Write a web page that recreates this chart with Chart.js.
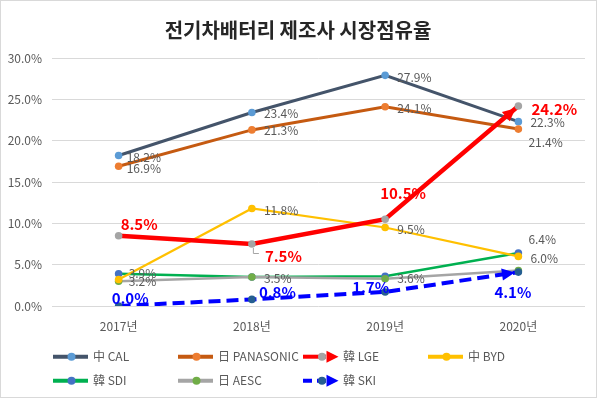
<!DOCTYPE html>
<html><head><meta charset="utf-8">
<script src="https://cdn.jsdelivr.net/npm/chart.js@4/dist/chart.umd.min.js"></script>
<style>html,body{margin:0;padding:0;background:#fff;}canvas{display:block;}</style>
</head><body>
<canvas id="c" width="600" height="399"></canvas>
<script>
// ---- data ----
const titleText = '전기차배터리 제조사 시장점유율';
const categories = ['2017년', '2018년', '2019년', '2020년'];
const seriesNames = ['中 CAL', '日 PANASONIC', '韓 LGE', '中 BYD', '韓 SDI', '日 AESC', '韓 SKI'];
const calValues = [18.2, 23.4, 27.9, 22.3];
const panasonicValues = [16.9, 21.3, 24.1, 21.4];
const lgeValues = [8.5, 7.5, 10.5, 24.2];
const bydValues = [3.2, 11.8, 9.5, 6.0];
const sdiValues = [3.9, 3.5, 3.6, 6.4];
const aescValues = [3.0, 3.5, 3.3, 4.3];
const skiValues = [0.0, 0.8, 1.7, 4.1];
const yTickValues = [0, 5, 10, 15, 20, 25, 30];

// ---- styles (not data) ----
const FONT = "'Noto Sans CJK KR','Noto Sans',sans-serif";
const GREY_TXT = '#595959';
const labelStyles = {
  grey: { color: GREY_TXT, font: '12px ' + FONT },
  red: { color: '#FF0000', font: 'bold 15px ' + FONT },
  blue: { color: '#0000FF', font: 'bold 15px ' + FONT }
};
const seriesStyles = [
  { line: '#44546A', point: '#5B9BD5', width: 3, order: 6, label: 'grey', offs: [[8,2],[12,1],[12,2],[12,1]] },
  { line: '#C55A11', point: '#ED7D31', width: 3, order: 5, label: 'grey', offs: [[8,2],[12,1],[12,2],[10,13]] },
  { line: '#FF0000', point: '#A5A5A5', width: 4.5, order: 1, label: 'red', arrow: true, offs: [[2,-11],[13,12],[-5,-26],[13,3]], leader: [false,true,false,false] },
  { line: '#FFC000', point: '#FFC000', width: 2.2, order: 2, label: 'grey', offs: [[10,2],[12,2],[12,2],[12,2]] },
  { line: '#00B050', point: '#4472C4', width: 2.5, order: 4, label: 'grey', offs: [[10,0],null,[12,2],[10,-14]] },
  { line: '#A5A5A5', point: '#70AD47', width: 2.5, order: 3, label: 'grey', offs: [null,[12,1],null,null] },
  { line: '#0000FF', point: '#255E91', width: 4, order: 0, label: 'blue', arrow: true, dash: [12, 6], offs: [[-7,-8],[7,-7],[-33,-5],[-24,20]] }
];
const allValues = [calValues, panasonicValues, lgeValues, bydValues, sdiValues, aescValues, skiValues];

const datasets = allValues.map((vals, i) => {
  const s = seriesStyles[i];
  return {
    label: seriesNames[i],
    data: vals,
    borderColor: s.line,
    backgroundColor: s.point,
    borderWidth: s.width,
    borderDash: s.dash || [],
    pointRadius: 3.8,
    pointBorderWidth: 0,
    pointBackgroundColor: s.point,
    pointBorderColor: s.point,
    tension: 0,
    order: s.order,
    fill: false
  };
});

function drawArrowHead(ctx, tipX, tipY, ang, len, half, color) {
  ctx.save();
  ctx.fillStyle = color;
  ctx.beginPath();
  ctx.moveTo(tipX, tipY);
  ctx.lineTo(tipX - len * Math.cos(ang) + half * Math.sin(ang), tipY - len * Math.sin(ang) - half * Math.cos(ang));
  ctx.lineTo(tipX - len * Math.cos(ang) - half * Math.sin(ang), tipY - len * Math.sin(ang) + half * Math.cos(ang));
  ctx.closePath();
  ctx.fill();
  ctx.restore();
}

const decorPlugin = {
  id: 'decor',
  beforeDraw(chart) {
    const ctx = chart.ctx;
    ctx.save();
    ctx.fillStyle = '#fff';
    ctx.fillRect(0, 0, chart.width, chart.height);
    ctx.strokeStyle = '#d9d9d9';
    ctx.lineWidth = 1;
    ctx.strokeRect(0.5, 0.5, 596, 397);
    // title
    ctx.fillStyle = '#262626';
    ctx.font = 'bold 20px ' + FONT;
    ctx.textAlign = 'center';
    ctx.textBaseline = 'middle';
    ctx.fillText(titleText, 298, 30);
    ctx.restore();
  },
  afterDatasetsDraw(chart) {
    const ctx = chart.ctx;
    // arrows
    seriesStyles.forEach((s, i) => {
      if (!s.arrow) return;
      const pts = chart.getDatasetMeta(i).data;
      const a = pts[pts.length - 2], b = pts[pts.length - 1];
      const ang = Math.atan2(b.y - a.y, b.x - a.x);
      const tx = b.x - 3.5 * Math.cos(ang), ty = b.y - 3.5 * Math.sin(ang);
      drawArrowHead(ctx, tx, ty, ang, 13, 6, s.line);
    });
    // data labels
    ctx.save();
    ctx.textAlign = 'left';
    ctx.textBaseline = 'middle';
    seriesStyles.forEach((s, i) => {
      const pts = chart.getDatasetMeta(i).data;
      const st = labelStyles[s.label];
      pts.forEach((p, j) => {
        const o = s.offs[j];
        if (!o) return;
        if (s.leader && s.leader[j]) {
          ctx.strokeStyle = '#A5A5A5';
          ctx.lineWidth = 1;
          ctx.beginPath();
          ctx.moveTo(p.x + 1.5, p.y + 4);
          ctx.lineTo(p.x + 1.5, p.y + 9.5);
          ctx.lineTo(p.x + 7, p.y + 9.5);
          ctx.stroke();
        }
        ctx.fillStyle = st.color;
        ctx.font = st.font;
        ctx.fillText(allValues[i][j].toFixed(1) + '%', p.x + o[0], p.y + o[1]);
      });
    });
    ctx.restore();
  },
  afterDraw(chart) {
    const ctx = chart.ctx;
    const colX = [53, 178, 303, 428];
    const rowY = [356.7, 380.7];
    ctx.save();
    ctx.textAlign = 'left';
    ctx.textBaseline = 'middle';
    ctx.font = '12px ' + FONT;
    seriesStyles.forEach((s, i) => {
      const x0 = colX[i % 4], y = rowY[Math.floor(i / 4)];
      ctx.strokeStyle = s.line;
      ctx.lineWidth = 4;
      if (s.arrow) {
        ctx.beginPath();
        if (s.dash) {
          ctx.moveTo(x0, y); ctx.lineTo(x0 + 9, y);
          ctx.moveTo(x0 + 14, y); ctx.lineTo(x0 + 23, y);
        } else {
          ctx.moveTo(x0, y); ctx.lineTo(x0 + 23, y);
        }
        ctx.stroke();
        ctx.fillStyle = s.point;
        ctx.beginPath(); ctx.arc(x0 + 19, y, 4, 0, Math.PI * 2); ctx.fill();
        drawArrowHead(ctx, x0 + 35.5, y, 0, 12, 6, s.line);
        ctx.fillStyle = GREY_TXT;
        ctx.fillText(seriesNames[i], x0 + 40, y);
      } else {
        ctx.beginPath(); ctx.moveTo(x0, y); ctx.lineTo(x0 + 35, y); ctx.stroke();
        ctx.fillStyle = s.point;
        ctx.beginPath(); ctx.arc(x0 + 18.5, y, 4, 0, Math.PI * 2); ctx.fill();
        ctx.fillStyle = GREY_TXT;
        ctx.fillText(seriesNames[i], x0 + 40, y);
      }
    });
    ctx.restore();
  }
};

new Chart(document.getElementById('c'), {
  type: 'line',
  data: { labels: categories, datasets: datasets },
  options: {
    responsive: false,
    animation: false,
    devicePixelRatio: 1,
    layout: { padding: { left: 0, right: 15, top: 58, bottom: 59 } },
    plugins: { legend: { display: false }, tooltip: { enabled: false }, title: { display: false } },
    scales: {
      x: {
        offset: true,
        grid: { display: false, drawTicks: false },
        border: { display: false },
        ticks: { color: GREY_TXT, font: { family: FONT, size: 12 }, padding: 13 },
        afterFit(scale) { scale.height = 34; }
      },
      y: {
        min: 0, max: 30,
        afterBuildTicks(scale) { scale.ticks = yTickValues.map(v => ({ value: v })); },
        grid: { color: '#D9D9D9', drawTicks: false, lineWidth: 1 },
        border: { display: false },
        ticks: { color: GREY_TXT, font: { family: FONT, size: 12 }, padding: 10, callback: v => v.toFixed(1) + '%' },
        afterFit(scale) { scale.width = 52; }
      }
    }
  },
  plugins: [decorPlugin]
});
</script>
</body></html>
